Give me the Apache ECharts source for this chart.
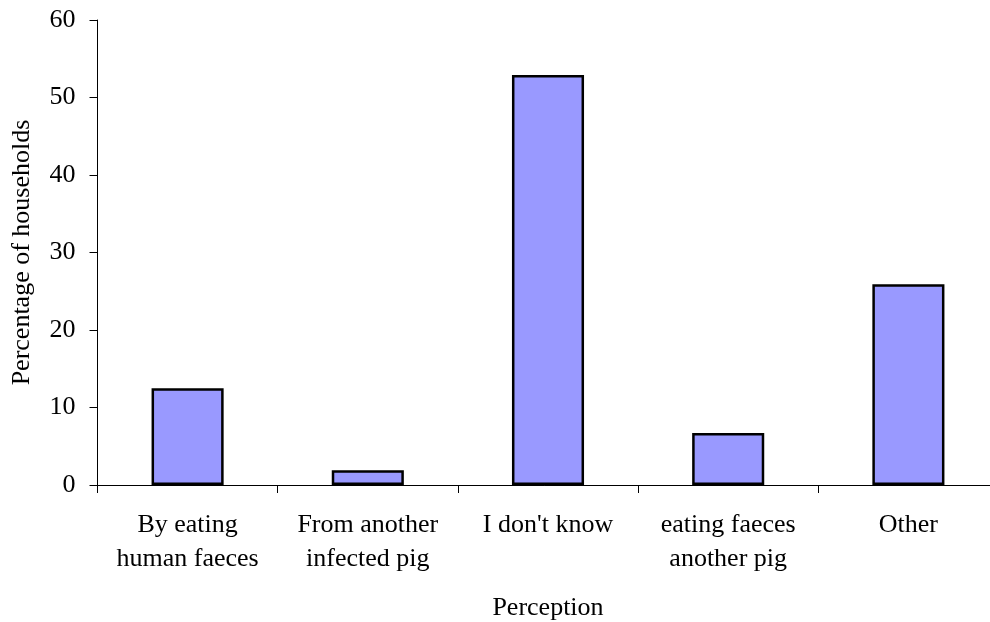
<!DOCTYPE html>
<html>
<head>
<meta charset="utf-8">
<script src="https://cdn.jsdelivr.net/npm/echarts@6/dist/echarts.min.js"></script>
<style>
  html, body { margin: 0; padding: 0; background: #ffffff; }
  #chart { width: 990px; height: 622px; }
</style>
</head>
<body>
<div id="chart"></div>
<script>
// Perceived route of pig infection, share of households (%)
const categories = [
  'By eating\nhuman faeces',
  'From another\ninfected pig',
  "I don't know",
  'eating faeces\nanother pig',
  'Other'
];
const percentages = [12.5, 1.9, 52.9, 6.7, 25.9];
const yTicks = { min: 0, max: 60, interval: 10 };

const FONT = '"Liberation Serif", "Times New Roman", serif';
const FS = 26;
const chart = echarts.init(document.getElementById('chart'), null, { renderer: 'canvas' });

chart.setOption({
  animation: false,
  backgroundColor: '#ffffff',
  // plot area runs slightly past the right edge of the canvas
  grid: { left: 97.5, top: 20, width: 901, height: 465, containLabel: false, outerBoundsMode: 'none' },
  xAxis: {
    type: 'category',
    data: categories,
    boundaryGap: true,
    name: 'Perception',
    nameLocation: 'middle',
    nameGap: 110,
    nameTextStyle: { fontFamily: FONT, fontSize: FS, color: '#000' },
    axisLine: { show: true, lineStyle: { color: '#000', width: 1 } },
    axisTick: { show: true, length: 8, alignWithLabel: false, lineStyle: { color: '#000', width: 1 } },
    axisLabel: {
      fontFamily: FONT, fontSize: FS, color: '#000', lineHeight: 34,
      margin: 23, interval: 0, align: 'center'
    },
    splitLine: { show: false }
  },
  yAxis: {
    type: 'value',
    min: yTicks.min,
    max: yTicks.max,
    interval: yTicks.interval,
    name: 'Percentage of households',
    nameLocation: 'middle',
    nameGap: 62,
    nameRotate: 90,
    nameTextStyle: { fontFamily: FONT, fontSize: FS, color: '#000' },
    axisLine: { show: true, lineStyle: { color: '#000', width: 1 } },
    axisTick: { show: true, length: 8, lineStyle: { color: '#000', width: 1 } },
    axisLabel: { fontFamily: FONT, fontSize: FS, color: '#000', margin: 22 },
    splitLine: { show: false }
  },
  series: [{
    type: 'bar',
    data: percentages,
    barWidth: '40%',
    itemStyle: { color: '#9999ff', borderColor: '#000', borderWidth: 2.5 }
  }]
});
</script>
</body>
</html>
